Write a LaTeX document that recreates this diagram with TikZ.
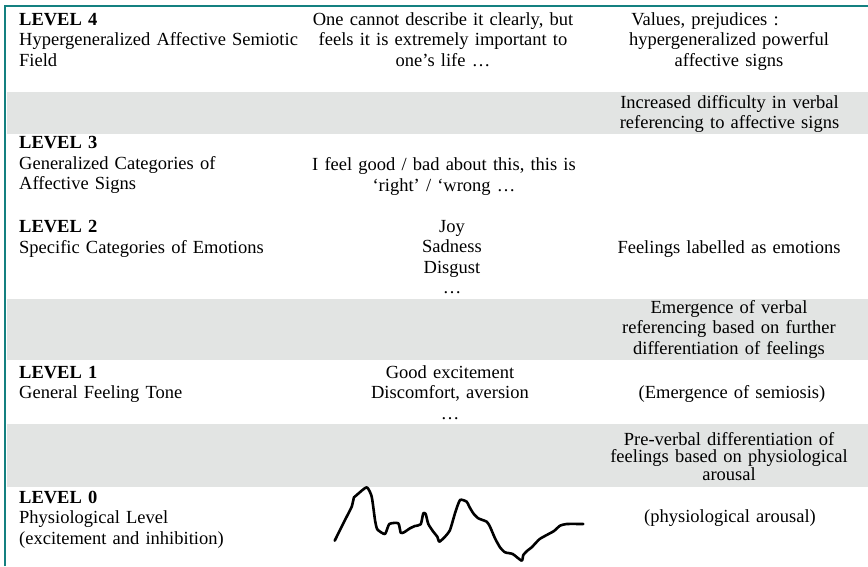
\documentclass[tikz,border=0pt]{standalone}
\usepackage{fontspec}
\setmainfont{Liberation Serif}
\definecolor{borderteal}{RGB}{20,128,128}
\definecolor{bandgray}{RGB}{226,228,227}
\newcommand{\cellfont}{\fontsize{18.5}{20.5}\selectfont}
\tikzset{
  levelcell/.style={anchor=base west, inner sep=0pt, text width=300pt, align=left, font=\cellfont},
  examplecell/.style={anchor=base, inner sep=0pt, text width=290pt, align=center, font=\cellfont},
  signcell/.style={anchor=base, inner sep=0pt, text width=250pt, align=center, font=\cellfont},
}
\begin{document}
\begin{tikzpicture}[x=1pt,y=-1pt]
\useasboundingbox (0,0) rectangle (868,566);
    %gray transition bands
    \foreach \top/\bot in {92/134, 299/360, 424/487}
    {\fill[bandgray] (6.5,\top) rectangle (868,\bot);}
    %frame
    \draw[borderteal, line width=2.2pt] (5.3,566) -- (5.3,6.2) -- (868,6.2);
    %level column
    \node[levelcell] (lvl4) at (19,25) {\textbf{LEVEL 4}\\Hypergeneralized Affective Semiotic\\Field};
    \node[levelcell] (lvl3) at (19,148.5) {\textbf{LEVEL 3}\\Generalized Categories of\\Affective Signs};
    \node[levelcell] (lvl2) at (19,232.5) {\textbf{LEVEL 2}\\Specific Categories of Emotions};
    \node[levelcell] (lvl1) at (19,378) {\textbf{LEVEL 1}\\General Feeling Tone};
    \node[levelcell] (lvl0) at (19,503) {\textbf{LEVEL 0}\\Physiological Level\\(excitement and inhibition)};
    %example column
    \node[examplecell] (ex4) at (443,25) {One cannot describe it clearly, but\\feels it is extremely important to\\one’s life …};
    \node[examplecell] (ex3) at (444,170.5) {I feel good / bad about this, this is\\‘right’ / ‘wrong …};
    \node[examplecell] (ex2) at (452,232) {Joy\\Sadness\\Disgust\\…};
    \node[examplecell] (ex1) at (450,378) {Good excitement\\Discomfort, aversion\\…};
    %sign column
    \node[signcell] (sign4) at (729,25) {\hspace*{-48pt}Values, prejudices :\\hypergeneralized powerful\\affective signs};
    \node[signcell] (gap43) at (729.5,108) {Increased difficulty in verbal\\referencing to affective signs};
    \node[signcell] (sign2) at (729,253) {Feelings labelled as emotions};
    \node[signcell] (gap21) at (729,313) {Emergence of verbal\\referencing based on further\\differentiation of feelings};
    \node[signcell] (sign1) at (732,398) {(Emergence of semiosis)};
    \node[signcell, font=\fontsize{18.5}{17.5}\selectfont] (gap10) at (729,445) {Pre-verbal differentiation of\\feelings based on physiological\\arousal};
    \node[signcell] (sign0) at (730,522.7) {(physiological arousal)};
    %arousal trace
    \draw[line width=2.6pt, line cap=round, line join=round] plot[smooth, tension=0.35] coordinates {
        (334.7,540.7) (345,520) (351.7,506.7) (354,497.3) (356.7,495) (366.7,487.3)
        (371.7,496.7) (375,520) (377.3,529.3) (385,534) (389.3,524) (398.3,523.3)
        (400.7,532.7) (404,532.3) (410,528.3) (415,526) (420.7,524.3) (423.3,513.3)
        (425.7,514) (428.3,524) (433.3,531.7) (437.3,536.7) (439.3,541.7) (445,536.7)
        (450,530) (455,513.3) (460,500) (466.7,501.7) (469.3,506.7) (473.3,513.3)
        (478.3,518.3) (486.7,521.7) (490,526.7) (495,538.3) (500,547.3) (505,552.3)
        (512.7,554) (521.7,560.7) (523.3,555) (527.3,550.7) (531.7,547.3) (539.3,539.3)
        (546.7,535) (554,531) (560,525.7) (566.7,524) (583.3,524)};
\end{tikzpicture}
\end{document}
